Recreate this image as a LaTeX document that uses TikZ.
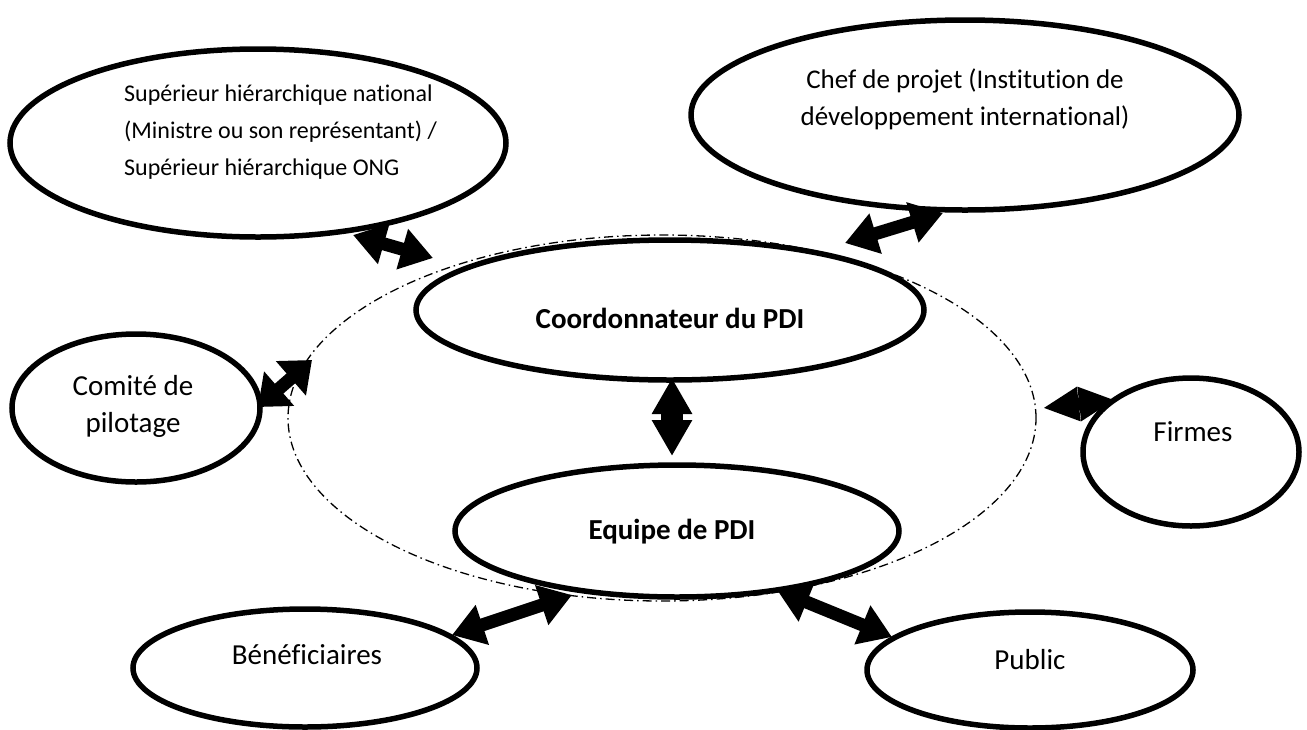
\documentclass[tikz,border=0pt]{standalone}
\usepackage{fontspec}
\setmainfont{Carlito}[Ligatures={NoCommon}]
\usetikzlibrary{shapes.geometric,arrows.meta}
\tikzset{
  oval/.style={draw=black,line width=5.5pt,fill=white,ellipse,inner sep=0pt},
  ring/.style={draw=black,line width=1.3pt,ellipse,inner sep=0pt,
    dash pattern=on 9pt off 4pt on 1.5pt off 4pt},
  txt/.style={font=\fontsize{29}{37}\selectfont,align=center,inner sep=0pt},
  suptxt/.style={txt,font=\fontsize{24}{37}\selectfont},
  cheftxt/.style={txt,font=\fontsize{27}{37}\selectfont},
  btxt/.style={txt,font=\fontsize{29}{37}\selectfont\bfseries},
  dbl/.style={line width=13pt,{Triangle[length=32pt,width=40pt]}-{Triangle[length=32pt,width=40pt]}},
}
\begin{document}
\begin{tikzpicture}[x=1pt,y=-1pt]
\useasboundingbox (0,0) rectangle (1307,729);
% dash-dot ring
\node[ring,minimum width=748pt,minimum height=366pt] (ring) at (662,418) {};
% ellipses
\node[oval,minimum width=496pt,minimum height=188pt] (sup) at (258,143) {};
\node[oval,minimum width=548pt,minimum height=190pt] (chef) at (965,115) {};
\node[oval,minimum width=508pt,minimum height=140pt] (coord) at (670,310) {};
\node[oval,minimum width=444pt,minimum height=132pt] (equipe) at (677,531) {};
\node[oval,minimum width=248pt,minimum height=148pt] (comite) at (136,408) {};
\node[oval,minimum width=216pt,minimum height=148pt] (firmes) at (1191,452) {};
\node[oval,minimum width=344pt,minimum height=118pt] (benef) at (305,668) {};
\node[oval,minimum width=326pt,minimum height=116pt] (public) at (1030,670) {};
% texts
\node[suptxt,align=left,anchor=west] (tsup) at (124,132) {Supérieur hiérarchique national\\(Ministre ou son représentant) /\\Supérieur hiérarchique ONG};
\node[cheftxt] (tchef) at (965,99) {Chef de projet (Institution de\\développement international)};
\node[btxt] (tcoord) at (670,318) {Coordonnateur du PDI};
\node[btxt] (tequipe) at (672,532) {Equipe de PDI};
\node[txt] (tcomite) at (133,406) {Comité de\\pilotage};
\node[txt] (tfirmes) at (1193,432) {Firmes};
\node[txt] (tbenef) at (307,655) {Bénéficiaires};
\node[txt] (tpublic) at (1030,660) {Public};
% arrow end points
\coordinate (a1) at (353,235); \coordinate (b1) at (433,258);
\coordinate (a2) at (845,243); \coordinate (b2) at (943,213);
\coordinate (a3) at (258,407); \coordinate (b3) at (312,360);
\coordinate (a4) at (1043,408); \coordinate (b4) at (1115,400);
\coordinate (a5) at (672,378); \coordinate (b5) at (672,456);
\coordinate (a6) at (452,635); \coordinate (b6) at (572,595);
\coordinate (a7) at (777,590); \coordinate (b7) at (892,637);
\draw[dbl] (a1) -- (b1);
\draw[dbl] (a2) -- (b2);
\draw[dbl,{Triangle[length=28pt,width=44pt]}-{Triangle[length=28pt,width=44pt]}] (a3) -- (b3);
\draw[dbl,{Triangle[length=36pt,width=32pt]}-{Triangle[length=36pt,width=32pt]}] (a4) -- (b4);
\draw[dbl,line width=22pt,{Triangle[length=36pt,width=38pt]}-{Triangle[length=36pt,width=38pt]}] (a5) -- (b5);
\draw[dbl] (a6) -- (b6);
\draw[dbl] (a7) -- (b7);
\end{tikzpicture}
\end{document}
